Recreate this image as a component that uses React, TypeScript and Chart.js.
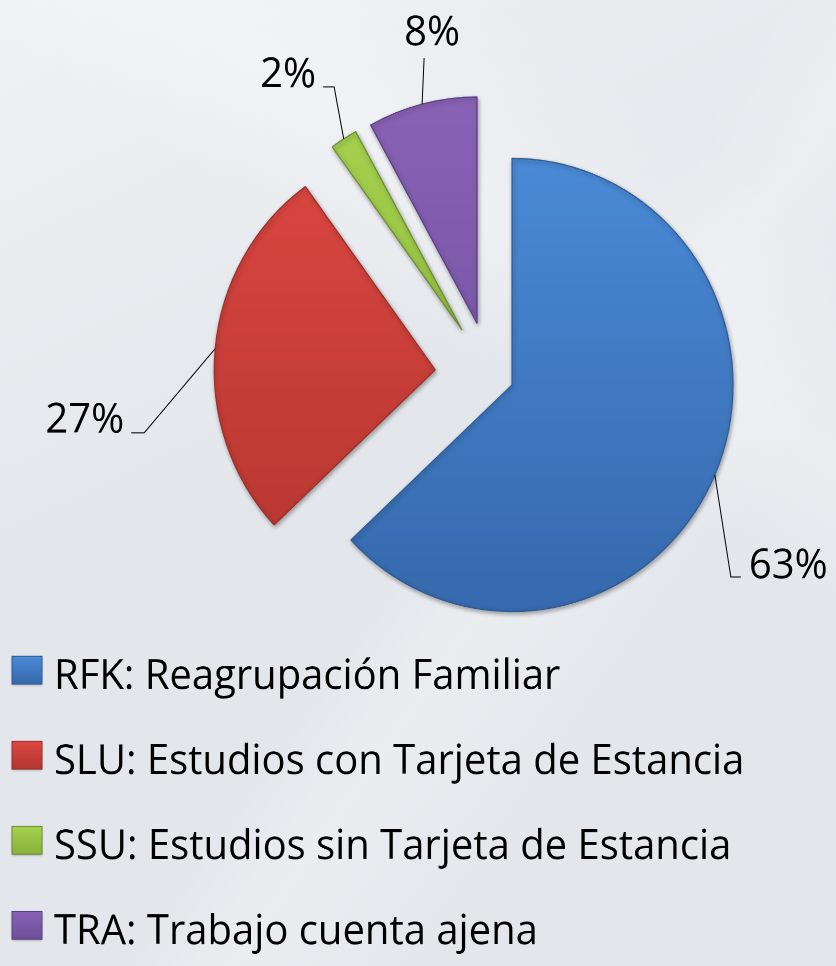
import React, { useEffect, useRef } from "react";
import { Chart, registerables } from "chart.js";

Chart.register(...registerables);

// ---------- data ----------
const categories = [
  "RFK: Reagrupación Familiar",
  "SLU: Estudios con Tarjeta de Estancia",
  "SSU: Estudios sin Tarjeta de Estancia",
  "TRA: Trabajo cuenta ajena",
];
const percentages = [63, 27, 2, 8];

// ---------- styles ----------
const sliceTop = ["#4a8ad6", "#dc4741", "#a6d24f", "#8962b6"];
const sliceBottom = ["#3669ad", "#b4362f", "#88b23a", "#6f4f9c"];
const sliceBorder = ["#2f5c98", "#9c2f2a", "#6c8f2f", "#5c4085"];

// ---------- layout (unstretched canvas px) ----------
const STRETCH_Y = 1.025;
const W = 836;
const H = Math.round(966 / STRETCH_Y);
const PIE_CX = 490;
const PIE_CY = 366;
const PIE_R = 221;
const explode = [24, 55, 52, 52];
const leader: [number, number][] = [
  [16, 99.6],
  [-71, 82.2],
  [-9.6, -50.7],
  [2, -45],
];
const tail = [10, -13, -11, 0];
const LABEL_FONT = '40px "Open Sans", "DejaVu Sans", sans-serif';
const LEGEND_FONT = '40px "Open Sans", "DejaVu Sans", sans-serif';
const LEGEND_X = 12;
const LEGEND_TEXT_X = 54;
const LEGEND_BASE = 671.8;
const LEGEND_STEP = 83;
const MARK_W = 30;
const MARK_H = 27;

function drawText(
  ctx: CanvasRenderingContext2D,
  text: string,
  x: number,
  y: number,
  align: CanvasTextAlign
) {
  ctx.save();
  ctx.textAlign = align;
  ctx.textBaseline = "alphabetic";
  ctx.fillStyle = "#000";
  ctx.fillText(text, x, y);
  ctx.restore();
}

const explodedPie = {
  id: "explodedPie",
  beforeDatasetsDraw(chart: any) {
    const ctx: CanvasRenderingContext2D = chart.ctx;
    const meta = chart.getDatasetMeta(0);
    meta.data.forEach((arc: any, i: number) => {
      const mid = (arc.startAngle + arc.endAngle) / 2;
      const d = explode[i];
      ctx.save();
      ctx.translate(Math.cos(mid) * d, Math.sin(mid) * d);
      ctx.shadowColor = "rgba(0,0,0,0.35)";
      ctx.shadowBlur = 10;
      ctx.shadowOffsetX = 2;
      ctx.shadowOffsetY = 4;
      arc.draw(ctx);
      ctx.restore();
    });
    return false;
  },
  afterDraw(chart: any) {
    const ctx: CanvasRenderingContext2D = chart.ctx;
    const meta = chart.getDatasetMeta(0);
    const values = chart.data.datasets[0].data as number[];

    // data labels with leader lines
    ctx.save();
    ctx.font = LABEL_FONT;
    ctx.strokeStyle = "#000";
    ctx.lineWidth = 1;
    meta.data.forEach((arc: any, i: number) => {
      const mid = (arc.startAngle + arc.endAngle) / 2;
      const r = arc.outerRadius;
      const cx = arc.x + Math.cos(mid) * explode[i];
      const cy = arc.y + Math.sin(mid) * explode[i];
      const sx = cx + Math.cos(mid) * r;
      const sy = cy + Math.sin(mid) * r;
      const ex = sx + leader[i][0];
      const ey = sy + leader[i][1];
      const tx = ex + tail[i];
      ctx.beginPath();
      ctx.moveTo(sx, sy);
      ctx.lineTo(ex, ey);
      if (tail[i] !== 0) ctx.lineTo(tx, ey);
      ctx.stroke();
      const label = `${values[i]}%`;
      if (tail[i] > 0) drawText(ctx, label, tx + 8, ey + 1, "left");
      else if (tail[i] < 0) drawText(ctx, label, tx - 7, ey, "right");
      else drawText(ctx, label, ex + 8, ey - 12.7, "center");
    });
    ctx.restore();

    // legend
    ctx.save();
    ctx.font = LEGEND_FONT;
    const labels = chart.data.labels as string[];
    labels.forEach((lab, i) => {
      const base = LEGEND_BASE + i * LEGEND_STEP;
      const top = base - 31.5;
      const g = ctx.createLinearGradient(0, top, 0, top + MARK_H);
      g.addColorStop(0, sliceTop[i]);
      g.addColorStop(1, sliceBottom[i]);
      ctx.fillStyle = g;
      ctx.shadowColor = "rgba(0,0,0,0.3)";
      ctx.shadowBlur = 4;
      ctx.shadowOffsetY = 2;
      ctx.fillRect(LEGEND_X, top, MARK_W, MARK_H);
      ctx.shadowColor = "transparent";
      ctx.strokeStyle = sliceBorder[i];
      ctx.lineWidth = 1;
      ctx.strokeRect(LEGEND_X, top, MARK_W, MARK_H);
      drawText(ctx, lab, LEGEND_TEXT_X, base, "left");
    });
    ctx.restore();
  },
};

export default function App() {
  const ref = useRef<HTMLCanvasElement>(null);

  useEffect(() => {
    if (!ref.current) return;
    const chart = new Chart(ref.current, {
      type: "pie",
      data: {
        labels: categories,
        datasets: [
          {
            data: percentages,
            radius: PIE_R,
            backgroundColor: (c: any) => {
              const i = c.dataIndex ?? 0;
              const area = c.chart.chartArea;
              if (!area) return sliceTop[i];
              const cy = (area.top + area.bottom) / 2;
              const g = c.chart.ctx.createLinearGradient(0, cy - PIE_R, 0, cy + PIE_R);
              g.addColorStop(0, sliceTop[i]);
              g.addColorStop(1, sliceBottom[i]);
              return g;
            },
            borderColor: sliceBorder,
            borderWidth: 1.2,
          } as any,
        ],
      },
      options: {
        responsive: false,
        animation: false,
        devicePixelRatio: 2,
        events: [],
        layout: {
          padding: {
            left: 2 * PIE_CX - W,
            top: 0,
            right: 0,
            bottom: H - 2 * PIE_CY,
          },
        },
        plugins: {
          legend: { display: false },
          tooltip: { enabled: false },
        },
      },
      plugins: [explodedPie as any],
    });
    return () => chart.destroy();
  }, []);

  return (
    <div
      style={{
        position: "absolute",
        left: 0,
        top: 0,
        width: 836,
        height: 966,
        overflow: "hidden",
        background:
          "linear-gradient(155deg, rgba(255,255,255,0.45) 0%, rgba(255,255,255,0) 45%)," +
          "linear-gradient(125deg, rgba(255,255,255,0) 52%, rgba(255,255,255,0.28) 60%, rgba(255,255,255,0) 74%)," +
          "linear-gradient(35deg, rgba(255,255,255,0) 60%, rgba(255,255,255,0.3) 70%, rgba(255,255,255,0) 85%)," +
          "#e3e6eb",
      }}
    >
      <div
        style={{
          width: W,
          height: H,
          transform: `scale(1, ${STRETCH_Y})`,
          transformOrigin: "0 0",
        }}
      >
        <canvas ref={ref} width={W} height={H} style={{ display: "block" }} />
      </div>
    </div>
  );
}
